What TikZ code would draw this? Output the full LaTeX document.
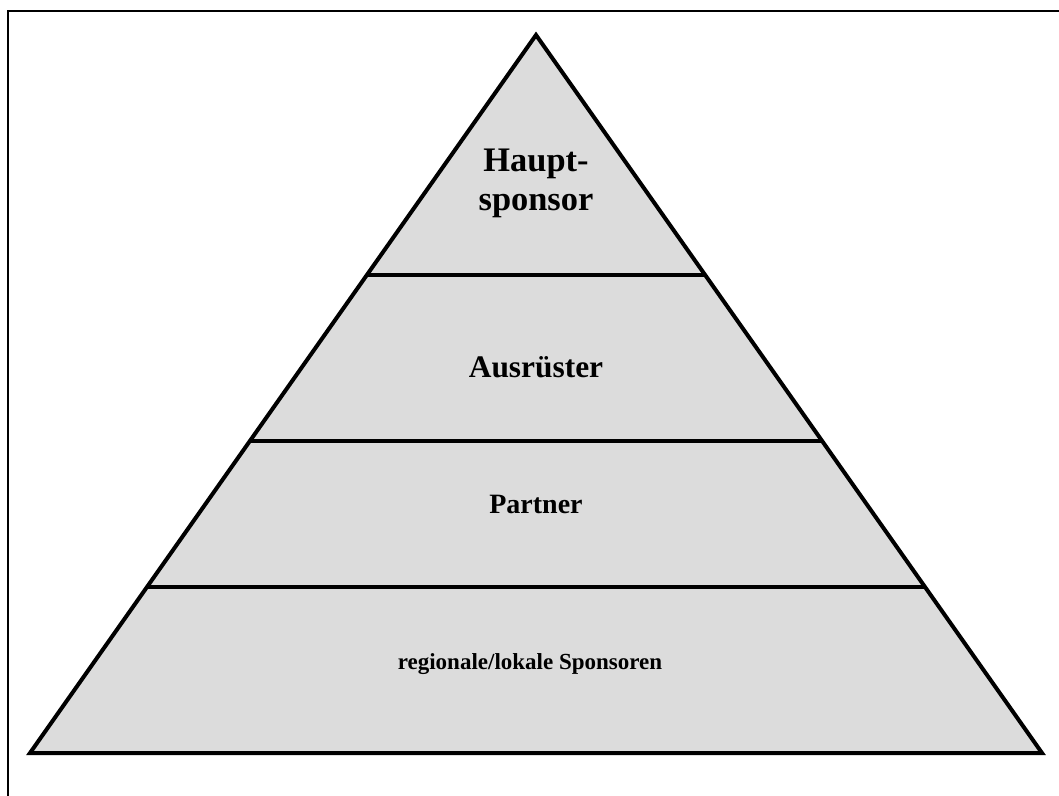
\documentclass[tikz,border=0pt]{standalone}
\usepackage{fontspec}
\setmainfont{Liberation Serif}
\usepackage{tikz}
\usetikzlibrary{calc}
\definecolor{pyrgray}{RGB}{220,220,220}
\tikzset{
	pyrline/.style={line width=2pt,line join=miter},
	levellabel/.style={font=\bfseries,align=center,inner sep=0pt}, % all labels are bold
}

\begin{document}
\begin{tikzpicture}[x=0.5pt,y=-0.5pt]
	\useasboundingbox (0,0) rectangle (1059,796);
	% outer frame (only top and left edge are visible)
	\draw[line width=1pt] (1059,11) -- (8,11) -- (8,796);
	
	% corners of the pyramid
	\coordinate (apex) at (536,35);
	\coordinate (bl) at (30,753);
	\coordinate (br) at (1042,753);
	
	% fill and outline
	\fill[pyrgray] (apex) -- (bl) -- (br) -- cycle;
	\draw[pyrline] (apex) -- (bl) -- (br) -- cycle;
	
	% dividing lines between the levels
	\coordinate (l1) at ($(apex)!0.3343!(bl)$);
	\coordinate (r1) at ($(apex)!0.3343!(br)$);
	\coordinate (l2) at ($(apex)!0.5655!(bl)$);
	\coordinate (r2) at ($(apex)!0.5655!(br)$);
	\coordinate (l3) at ($(apex)!0.7688!(bl)$);
	\coordinate (r3) at ($(apex)!0.7688!(br)$);
	\draw[pyrline] (l1) -- (r1);
	\draw[pyrline] (l2) -- (r2);
	\draw[pyrline] (l3) -- (r3);
	
	% labels
	\node[levellabel,font=\bfseries\fontsize{17.2}{19.5}\selectfont] (haupt) at (536,183) {Haupt-\\sponsor};
	\node[levellabel,font=\bfseries\fontsize{15.7}{18}\selectfont] (ausr) at (536,367) {Ausrüster};
	\node[levellabel,font=\bfseries\fontsize{14}{16}\selectfont] (partner) at (536,504) {Partner};
	\node[levellabel,font=\bfseries\fontsize{11.5}{14}\selectfont] (regional) at (530,664) {regionale/lokale Sponsoren};
	
\end{tikzpicture}
\end{document}
